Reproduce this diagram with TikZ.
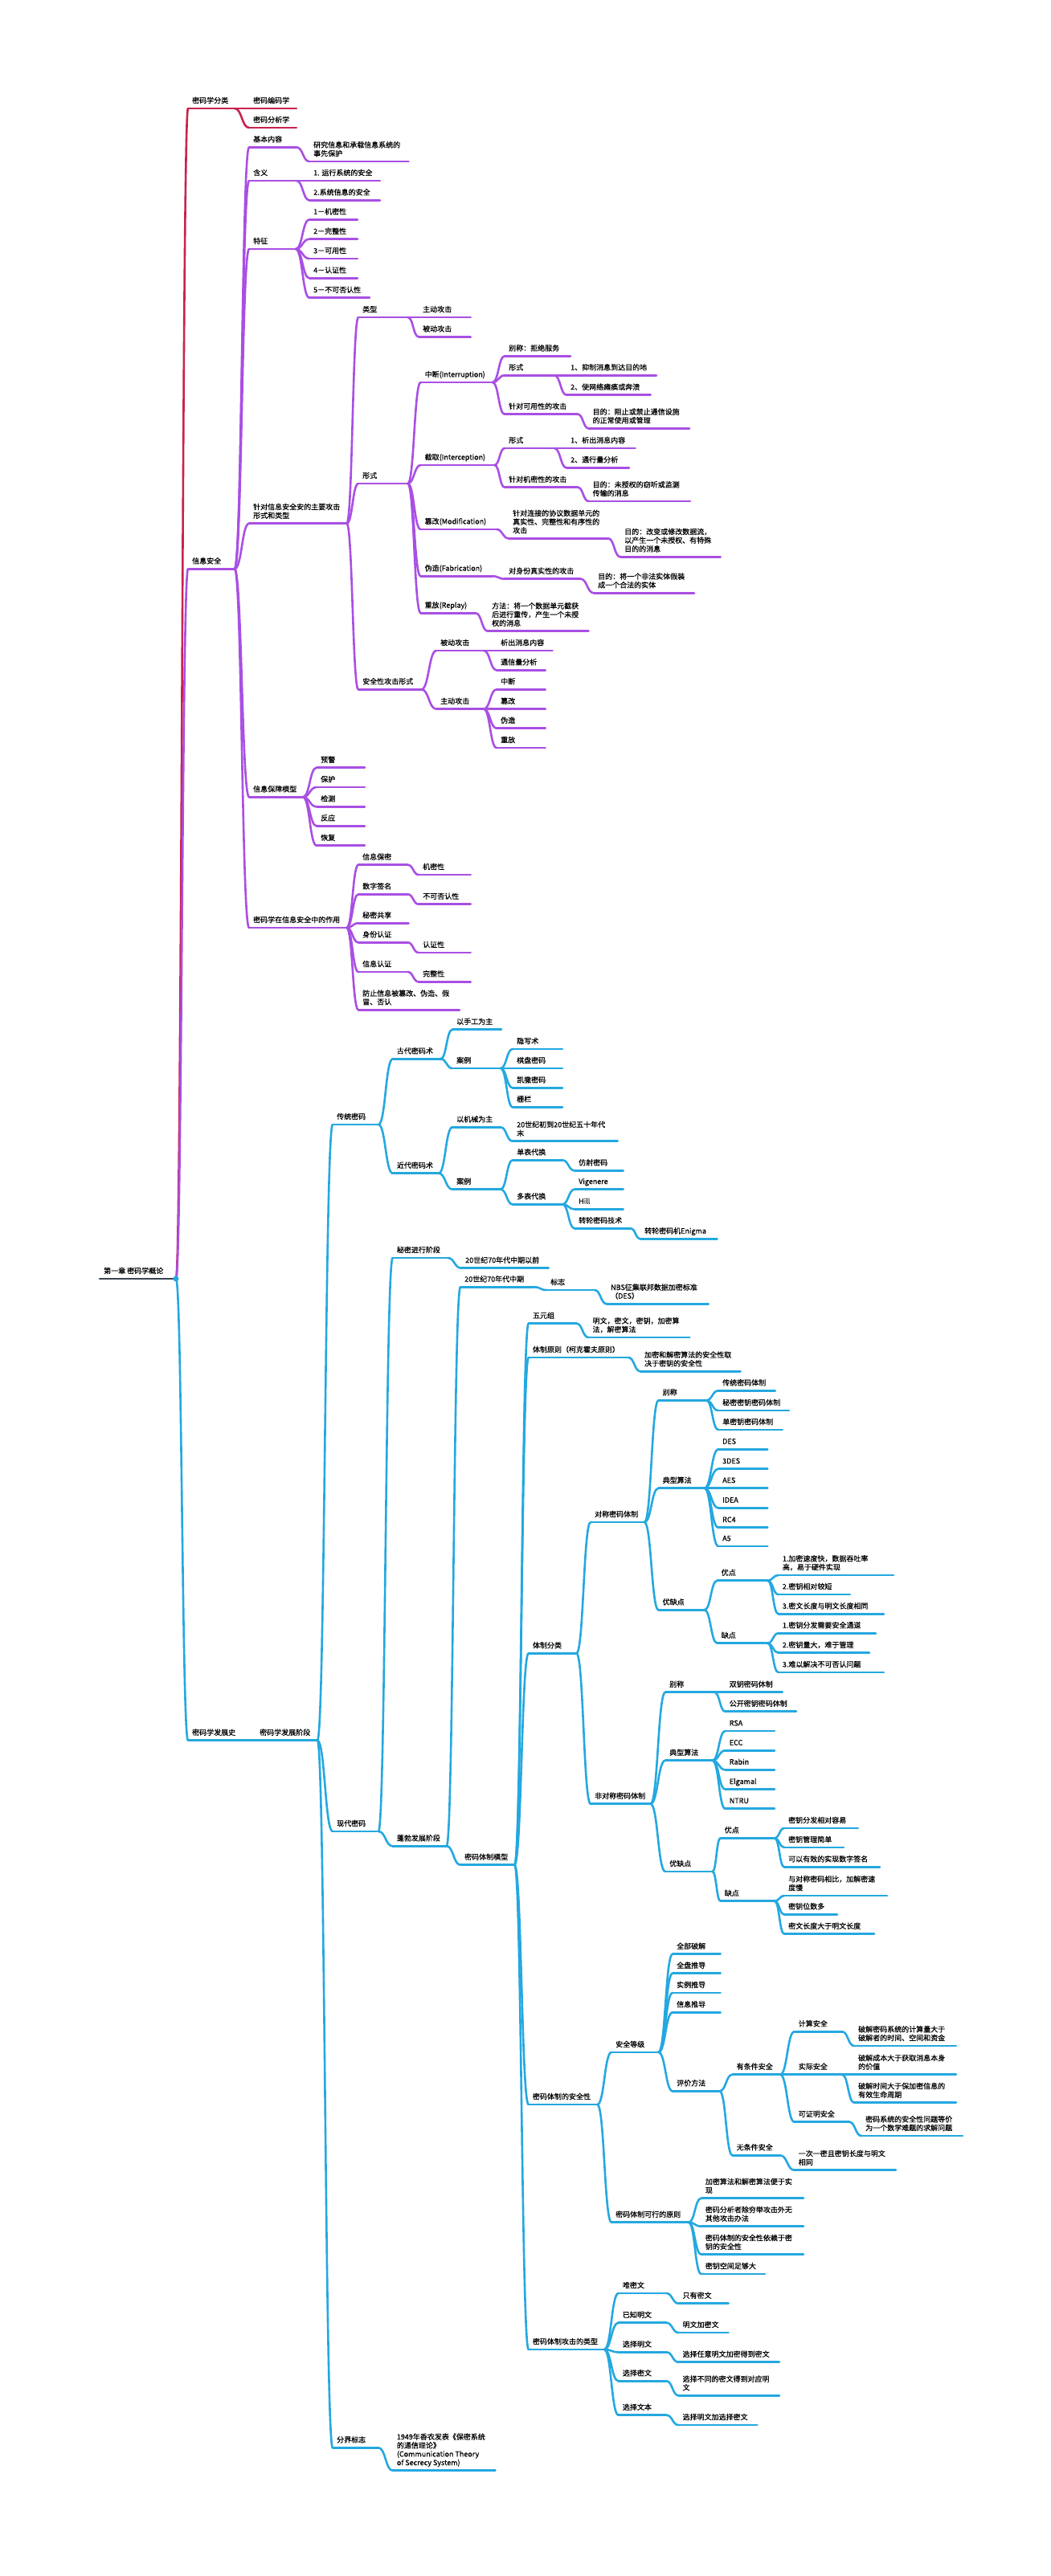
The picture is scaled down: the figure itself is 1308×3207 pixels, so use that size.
\documentclass[tikz,border=0pt]{standalone}
\usepackage{fontspec}
\newfontfamily\cjk[FakeBold=0.6]{Noto Sans CJK SC}
\usetikzlibrary{calc}
\definecolor{cr}{HTML}{C8234E}
\definecolor{cp}{HTML}{A94FE3}
\definecolor{cb}{HTML}{24A8E0}
\definecolor{croot}{HTML}{3A4652}
\newcommand\mmL[1]{\vbox{\baselineskip=10.7pt\lineskiplimit=-\maxdimen\halign{##\hfil\cr#1\crcr}}}
\newcommand\mmN[6]{%
  \coordinate (#1-s) at (#3,#5);
  \coordinate (#1-e) at (#4,#5);
  \draw[br,#2] (#1-s) -- (#1-e);
  \node[lbl] (#1) at (#3+5,#5-6.6) {#6};}
\newcommand\mmC[3]{\draw[br,#1] (#2-e) .. controls ($(#2-e)!0.5!(#2-e -| #3-s)$) and ($(#3-s)!0.5!(#3-s -| #2-e)$) .. (#3-s);}
\tikzset{
  br/.style={line width=2.6pt, line cap=round, line join=round},
  lbl/.style={anchor=base west, inner sep=0pt, font=\cjk\fontsize{9}{10.7}\selectfont, text=black}
}
\begin{document}
\begin{tikzpicture}[x=1pt,y=-1pt]
\fill[white] (0,0) rectangle (1308,3207);
\useasboundingbox (0,0) rectangle (1308,3207);

% root
\mmN{root}{croot}{124}{219}{1592}{第一章 密码学概论}

% ---------------- red
\mmN{r0}{cr}{234}{292}{135}{密码学分类}
\mmN{r1}{cr}{310}{369}{135}{密码编码学}
\mmN{r2}{cr}{310}{369}{159}{密码分析学}
\mmC{cr}{root}{r0}
\mmC{cr}{r0}{r1}\mmC{cr}{r0}{r2}

% ---------------- purple
\mmN{p0}{cp}{234}{292}{708.3}{信息安全}
\mmC{cp}{root}{p0}
\mmN{p1}{cp}{310}{369}{183.3}{基本内容}
\mmN{p1a}{cp}{385}{508.5}{201}{\mmL{研究信息和承载信息系统的\cr 事先保护}}
\mmN{p2}{cp}{310}{369}{225}{含义}
\mmN{p2a}{cp}{385}{473}{225}{1. 运行系统的安全}
\mmN{p2b}{cp}{385}{473}{249.3}{2.系统信息的安全}
\mmN{p3}{cp}{310}{368}{310}{特征}
\mmN{p3a}{cp}{385}{445}{273.3}{1－机密性}
\mmN{p3b}{cp}{385}{445}{297.7}{2－完整性}
\mmN{p3c}{cp}{385}{445}{322}{3－可用性}
\mmN{p3d}{cp}{385}{445}{346.3}{4－认证性}
\mmN{p3e}{cp}{385}{460}{370.7}{5－不可否认性}
\mmN{p4}{cp}{310}{431.5}{651.7}{\mmL{针对信息安全安的主要攻击\cr 形式和类型}}
\mmN{p4a}{cp}{446}{507.5}{395}{类型}
\mmN{p4a1}{cp}{521}{585.7}{395}{主动攻击}
\mmN{p4a2}{cp}{521}{585.7}{419.3}{被动攻击}
\mmN{p4b}{cp}{446}{507.5}{602}{形式}
\mmN{p4b1}{cp}{523.5}{613}{476}{中断(Interruption)}
\mmN{p4b1a}{cp}{628}{710}{443.3}{别称：拒绝服务}
\mmN{p4b1b}{cp}{628}{690}{467.3}{形式}
\mmN{p4b1b1}{cp}{705}{817}{467.3}{1、抑制消息到达目的地}
\mmN{p4b1b2}{cp}{705}{809.6}{491.7}{2、使网络瘫痪或奔溃}
\mmN{p4b1c}{cp}{628}{719}{515.7}{针对可用性的攻击}
\mmN{p4b1c1}{cp}{732.5}{858}{533.3}{\mmL{目的：阻止或禁止通信设施\cr 的正常使用或管理}}
\mmN{p4b2}{cp}{523.5}{615.5}{579}{截取(Interception)}
\mmN{p4b2a}{cp}{628}{690}{558}{形式}
\mmN{p4b2a1}{cp}{705}{790.6}{558}{1、析出消息内容}
\mmN{p4b2a2}{cp}{705}{783}{582.3}{2、通行量分析}
\mmN{p4b2b}{cp}{628}{719}{606.7}{针对机密性的攻击}
\mmN{p4b2b1}{cp}{732.5}{859}{624}{\mmL{目的：未授权的窃听或监测\cr 传输的消息}}
\mmN{p4b3}{cp}{523.5}{618}{659}{篡改(Modification)}
\mmN{p4b3a}{cp}{633}{757}{670.3}{\mmL{针对连接的协议数据单元的\cr 真实性、完整性和有序性的\cr 攻击}}
\mmN{p4b3a1}{cp}{772}{896.6}{693.3}{\mmL{目的：改变或修改数据流，\cr 以产生一个未授权、有特殊\cr 目的的消息}}
\mmN{p4b4}{cp}{523.5}{613}{717.3}{伪造(Fabrication)}
\mmN{p4b4a}{cp}{628}{722.5}{720.7}{对身份真实性的攻击}
\mmN{p4b4a1}{cp}{739}{864}{738.3}{\mmL{目的：将一个非法实体假装\cr 成一个合法的实体}}
\mmN{p4b5}{cp}{523.5}{592}{763.3}{重放(Replay)}
\mmN{p4b5a}{cp}{607}{732.5}{785.7}{\mmL{方法：将一个数据单元截获\cr 后进行重传，产生一个未授\cr 权的消息}}
\mmN{p4c}{cp}{446}{524.5}{858.3}{安全性攻击形式}
\mmN{p4c1}{cp}{543}{602}{810}{被动攻击}
\mmN{p4c1a}{cp}{618}{687.6}{810}{析出消息内容}
\mmN{p4c1b}{cp}{618}{678.7}{834.3}{通信量分析}
\mmN{p4c2}{cp}{543}{602}{882.7}{主动攻击}
\mmN{p4c2a}{cp}{618}{678.7}{858.3}{中断}
\mmN{p4c2b}{cp}{618}{678.7}{882.7}{篡改}
\mmN{p4c2c}{cp}{618}{678.7}{906.7}{伪造}
\mmN{p4c2d}{cp}{618}{678.7}{931}{重放}
\mmN{p5}{cp}{310}{377}{992.3}{信息保障模型}
\mmN{p5a}{cp}{394}{454}{955.7}{预警}
\mmN{p5b}{cp}{394}{454}{980}{保护}
\mmN{p5c}{cp}{394}{454}{1004.3}{检测}
\mmN{p5d}{cp}{394}{454}{1028.3}{反应}
\mmN{p5e}{cp}{394}{454}{1052.7}{恢复}
\mmN{p6}{cp}{310}{431.5}{1155}{密码学在信息安全中的作用}
\mmN{p6a}{cp}{446}{507.5}{1076.7}{信息保密}
\mmN{p6a1}{cp}{521}{585.7}{1089}{机密性}
\mmN{p6b}{cp}{446}{507.5}{1113.3}{数字签名}
\mmN{p6b1}{cp}{521}{585.7}{1125.7}{不可否认性}
\mmN{p6c}{cp}{446}{508.5}{1149.3}{秘密共享}
\mmN{p6d}{cp}{446}{507.5}{1173.3}{身份认证}
\mmN{p6d1}{cp}{521}{585.7}{1186}{认证性}
\mmN{p6e}{cp}{446}{507.5}{1210}{信息认证}
\mmN{p6e1}{cp}{521}{585.7}{1222.3}{完整性}
\mmN{p6f}{cp}{446}{572}{1257.3}{\mmL{防止信息被篡改、伪造、假\cr 冒、否认}}

\foreach \c in {p1,p2,p3,p4,p5,p6} {\mmC{cp}{p0}{\c}}
\mmC{cp}{p1}{p1a}
\mmC{cp}{p2}{p2a}\mmC{cp}{p2}{p2b}
\foreach \c in {p3a,p3b,p3c,p3d,p3e} {\mmC{cp}{p3}{\c}}
\foreach \c in {p4a,p4b,p4c} {\mmC{cp}{p4}{\c}}
\mmC{cp}{p4a}{p4a1}\mmC{cp}{p4a}{p4a2}
\foreach \c in {p4b1,p4b2,p4b3,p4b4,p4b5} {\mmC{cp}{p4b}{\c}}
\foreach \c in {p4b1a,p4b1b,p4b1c} {\mmC{cp}{p4b1}{\c}}
\mmC{cp}{p4b1b}{p4b1b1}\mmC{cp}{p4b1b}{p4b1b2}
\mmC{cp}{p4b1c}{p4b1c1}
\mmC{cp}{p4b2}{p4b2a}\mmC{cp}{p4b2}{p4b2b}
\mmC{cp}{p4b2a}{p4b2a1}\mmC{cp}{p4b2a}{p4b2a2}
\mmC{cp}{p4b2b}{p4b2b1}
\mmC{cp}{p4b3}{p4b3a}\mmC{cp}{p4b3a}{p4b3a1}
\mmC{cp}{p4b4}{p4b4a}\mmC{cp}{p4b4a}{p4b4a1}
\mmC{cp}{p4b5}{p4b5a}
\mmC{cp}{p4c}{p4c1}\mmC{cp}{p4c}{p4c2}
\mmC{cp}{p4c1}{p4c1a}\mmC{cp}{p4c1}{p4c1b}
\foreach \c in {p4c2a,p4c2b,p4c2c,p4c2d} {\mmC{cp}{p4c2}{\c}}
\foreach \c in {p5a,p5b,p5c,p5d,p5e} {\mmC{cp}{p5}{\c}}
\foreach \c in {p6a,p6b,p6c,p6d,p6e,p6f} {\mmC{cp}{p6}{\c}}
\mmC{cp}{p6a}{p6a1}\mmC{cp}{p6b}{p6b1}\mmC{cp}{p6d}{p6d1}\mmC{cp}{p6e}{p6e1}

% ---------------- blue
\mmN{b0}{cb}{234}{300}{2166.7}{密码学发展史}
\mmC{cb}{root}{b0}
\mmN{b1}{cb}{318}{395}{2166.7}{密码学发展阶段}
\mmC{cb}{b0}{b1}
\mmN{t}{cb}{414}{471}{1400}{传统密码}
\mmN{t1}{cb}{488.7}{548.4}{1318.3}{古代密码术}
\mmN{t1a}{cb}{563}{624}{1281.7}{以手工为主}
\mmN{t1b}{cb}{563}{623}{1330}{案例}
\mmN{t1b1}{cb}{638}{700}{1306}{隐写术}
\mmN{t1b2}{cb}{638}{700}{1330}{棋盘密码}
\mmN{t1b3}{cb}{638}{700}{1354.3}{凯撒密码}
\mmN{t1b4}{cb}{638}{700}{1378.3}{栅栏}
\mmN{t2}{cb}{488.7}{546}{1460.7}{近代密码术}
\mmN{t2a}{cb}{563}{623}{1403.3}{以机械为主}
\mmN{t2a1}{cb}{638}{768.8}{1420.7}{\mmL{20世纪初到20世纪五十年代\cr 末}}
\mmN{t2b}{cb}{563}{623}{1480.7}{案例}
\mmN{t2b1}{cb}{638}{700}{1444.3}{单表代换}
\mmN{t2b1a}{cb}{715}{775.7}{1457.3}{仿射密码}
\mmN{t2b2}{cb}{638}{700}{1499.3}{多表代换}
\mmN{t2b2a}{cb}{715}{775.7}{1480.7}{Vigenere}
\mmN{t2b2b}{cb}{715}{775.7}{1505.3}{Hill}
\mmN{t2b2c}{cb}{715}{784.7}{1529.3}{转轮密码技术}
\mmN{t2b2c1}{cb}{797}{892.6}{1542.3}{转轮密码机Enigma}

\mmN{m}{cb}{414}{471}{2280}{现代密码}
\mmN{m1}{cb}{488.7}{557.3}{1566}{秘密进行阶段}
\mmN{m1a}{cb}{574}{682.7}{1578.7}{20世纪70年代中期以前}
\mmN{m2}{cb}{488.7}{555.8}{2298.3}{蓬勃发展阶段}
\mmN{m2a}{cb}{573}{665}{1602.3}{20世纪70年代中期}
\mmN{m2a1}{cb}{680}{740}{1606}{标志}
\mmN{m2a1a}{cb}{755}{881.7}{1623.3}{\mmL{NBS征集联邦数据加密标准\cr （DES）}}
\mmN{m2b}{cb}{573}{640.4}{2321.7}{密码体制模型}
\mmN{k1}{cb}{657.8}{717.5}{1647.7}{五元组}
\mmN{k1a}{cb}{732.4}{858.3}{1665}{\mmL{明文，密文，密钥，加密算\cr 法，解密算法}}
\mmN{k2}{cb}{657.8}{782}{1690}{体制原则（柯克霍夫原则）}
\mmN{k2a}{cb}{797}{921.5}{1707.3}{\mmL{加密和解密算法的安全性取\cr 决于密钥的安全性}}
\mmN{k3}{cb}{657.8}{717.5}{2058.3}{体制分类}
\mmN{s}{cb}{735}{802}{1895}{对称密码体制}
\mmN{s1}{cb}{819.5}{879}{1743.3}{别称}
\mmN{s1a}{cb}{894}{964.8}{1731.3}{传统密码体制}
\mmN{s1b}{cb}{894}{982}{1756}{秘密密钥密码体制}
\mmN{s1c}{cb}{894}{973.7}{1780}{单密钥密码体制}
\mmN{s2}{cb}{819.5}{876.7}{1852.7}{典型算法}
\mmN{s2a}{cb}{894}{955.3}{1804.3}{DES}
\mmN{s2b}{cb}{894}{955.3}{1828.7}{3DES}
\mmN{s2c}{cb}{894}{955.3}{1852.7}{AES}
\mmN{s2d}{cb}{894}{955.3}{1877.3}{IDEA}
\mmN{s2e}{cb}{894}{955.3}{1901.7}{RC4}
\mmN{s2f}{cb}{894}{955.3}{1925}{A5}
\mmN{s3}{cb}{819.5}{876.7}{2004.3}{优缺点}
\mmN{s3a}{cb}{892.6}{955.3}{1967.7}{优点}
\mmN{s3a1}{cb}{968.7}{1112}{1961}{\mmL{1.加密速度快，数据吞吐率\cr 高，易于硬件实现}}
\mmN{s3a2}{cb}{968.7}{1058}{1985}{2.密钥相对较短}
\mmN{s3a3}{cb}{968.7}{1100}{2009.3}{3.密文长度与明文长度相同}
\mmN{s3b}{cb}{892.6}{955.3}{2045.7}{缺点}
\mmN{s3b1}{cb}{968.7}{1090}{2033.3}{1.密钥分发需要安全通道}
\mmN{s3b2}{cb}{968.7}{1082}{2057.7}{2.密钥量大，难于管理}
\mmN{s3b3}{cb}{968.7}{1100}{2082}{3.难以解决不可否认问题}
\mmN{a}{cb}{735}{809.6}{2245.7}{非对称密码体制}
\mmN{a1}{cb}{828}{889}{2106.7}{别称}
\mmN{a1a}{cb}{902.6}{973.7}{2106.7}{双钥密码体制}
\mmN{a1b}{cb}{902.6}{991}{2130.7}{公开密钥密码体制}
\mmN{a2}{cb}{828}{886.7}{2191.7}{典型算法}
\mmN{a2a}{cb}{902.6}{964}{2155}{RSA}
\mmN{a2b}{cb}{902.6}{964}{2179.3}{ECC}
\mmN{a2c}{cb}{902.6}{964}{2203.3}{Rabin}
\mmN{a2d}{cb}{902.6}{964}{2227.7}{Elgamal}
\mmN{a2e}{cb}{902.6}{964}{2251.7}{NTRU}
\mmN{a3}{cb}{828}{886.7}{2330}{优缺点}
\mmN{a3a}{cb}{896.6}{964}{2288.3}{优点}
\mmN{a3a1}{cb}{976}{1068}{2276}{密钥分发相对容易}
\mmN{a3a2}{cb}{976}{1050}{2300}{密钥管理简单}
\mmN{a3a3}{cb}{976}{1095}{2324.3}{可以有效的实现数字签名}
\mmN{a3b}{cb}{896.6}{964}{2366.7}{缺点}
\mmN{a3b1}{cb}{976}{1104}{2360}{\mmL{与对称密码相比，加解密速\cr 度慢}}
\mmN{a3b2}{cb}{976}{1042}{2383.3}{密钥位数多}
\mmN{a3b3}{cb}{976}{1088}{2407.7}{密文长度大于明文长度}
\mmN{k4}{cb}{657.8}{743.4}{2620}{密码体制的安全性}
\mmN{q1}{cb}{761}{819.5}{2555}{安全等级}
\mmN{q1a}{cb}{837}{896.6}{2432.7}{全部破解}
\mmN{q1b}{cb}{837}{896.6}{2456.7}{全盘推导}
\mmN{q1c}{cb}{837}{896.6}{2481}{实例推导}
\mmN{q1d}{cb}{837}{896.6}{2505.3}{信息推导}
\mmN{q1e}{cb}{837}{895.6}{2603.3}{评价方法}
\mmN{q1e1}{cb}{911.5}{971}{2582.7}{有条件安全}
\mmN{q1e1a}{cb}{988.6}{1048}{2529.3}{计算安全}
\mmN{q1e1a1}{cb}{1063}{1190}{2547}{\mmL{破解密码系统的计算量大于\cr 破解者的时间、空间和资金}}
\mmN{q1e1b}{cb}{988.6}{1048}{2582.7}{实际安全}
\mmN{q1e1b1}{cb}{1063}{1190}{2582.7}{\mmL{破解成本大于获取消息本身\cr 的价值}}
\mmN{q1e1b2}{cb}{1063}{1190}{2617.7}{\mmL{破解时间大于保加密信息的\cr 有效生命周期}}
\mmN{q1e1c}{cb}{988.6}{1057}{2641.7}{可证明安全}
\mmN{q1e1c1}{cb}{1072}{1198}{2659}{\mmL{密码系统的安全性问题等价\cr 为一个数学难题的求解问题}}
\mmN{q1e2}{cb}{911.5}{971}{2683.3}{无条件安全}
\mmN{q1e2a}{cb}{988.6}{1115}{2701.7}{\mmL{一次一密且密钥长度与明文\cr 相同}}
\mmN{q2}{cb}{761}{857}{2766.7}{密码体制可行的原则}
\mmN{q2a}{cb}{872.7}{1000}{2736.7}{\mmL{加密算法和解密算法便于实\cr 现}}
\mmN{q2b}{cb}{872.7}{1000}{2771.7}{\mmL{密码分析者除穷举攻击外无\cr 其他攻击办法}}
\mmN{q2c}{cb}{872.7}{1000}{2806.7}{\mmL{密码体制的安全性依赖于密\cr 钥的安全性}}
\mmN{q2d}{cb}{872.7}{952}{2831}{密钥空间足够大}
\mmN{k5}{cb}{657.8}{752}{2925}{密码体制攻击的类型}
\mmN{w1}{cb}{769.7}{829.4}{2855}{唯密文}
\mmN{w1a}{cb}{844.4}{906.6}{2867.7}{只有密文}
\mmN{w2}{cb}{769.7}{829.4}{2891.7}{已知明文}
\mmN{w2a}{cb}{844.4}{906.6}{2904}{明文加密文}
\mmN{w3}{cb}{769.7}{829.4}{2928.3}{选择明文}
\mmN{w3a}{cb}{844.4}{970}{2940.7}{选择任意明文加密得到密文}
\mmN{w4}{cb}{769.7}{829.4}{2964.3}{选择密文}
\mmN{w4a}{cb}{844.4}{970}{2982.3}{\mmL{选择不同的密文得到对应明\cr 文}}
\mmN{w5}{cb}{769.7}{829.4}{3006.7}{选择文本}
\mmN{w5a}{cb}{844.4}{942.4}{3019}{选择明文加选择密文}

\mmN{f}{cb}{414}{471}{3047.3}{分界标志}
\mmN{f1}{cb}{488.7}{616.5}{3075.7}{\mmL{1949年香农发表《保密系统\cr 的通信理论》\cr (Communication Theory\cr of Secrecy System)}}

\foreach \c in {t,m,f} {\mmC{cb}{b1}{\c}}
\mmC{cb}{t}{t1}\mmC{cb}{t}{t2}
\mmC{cb}{t1}{t1a}\mmC{cb}{t1}{t1b}
\foreach \c in {t1b1,t1b2,t1b3,t1b4} {\mmC{cb}{t1b}{\c}}
\mmC{cb}{t2}{t2a}\mmC{cb}{t2}{t2b}
\mmC{cb}{t2a}{t2a1}
\mmC{cb}{t2b}{t2b1}\mmC{cb}{t2b}{t2b2}
\mmC{cb}{t2b1}{t2b1a}
\foreach \c in {t2b2a,t2b2b,t2b2c} {\mmC{cb}{t2b2}{\c}}
\mmC{cb}{t2b2c}{t2b2c1}
\mmC{cb}{m}{m1}\mmC{cb}{m}{m2}
\mmC{cb}{m1}{m1a}
\mmC{cb}{m2}{m2a}\mmC{cb}{m2}{m2b}
\mmC{cb}{m2a}{m2a1}\mmC{cb}{m2a1}{m2a1a}
\foreach \c in {k1,k2,k3,k4,k5} {\mmC{cb}{m2b}{\c}}
\mmC{cb}{k1}{k1a}\mmC{cb}{k2}{k2a}
\mmC{cb}{k3}{s}\mmC{cb}{k3}{a}
\foreach \c in {s1,s2,s3} {\mmC{cb}{s}{\c}}
\foreach \c in {s1a,s1b,s1c} {\mmC{cb}{s1}{\c}}
\foreach \c in {s2a,s2b,s2c,s2d,s2e,s2f} {\mmC{cb}{s2}{\c}}
\mmC{cb}{s3}{s3a}\mmC{cb}{s3}{s3b}
\foreach \c in {s3a1,s3a2,s3a3} {\mmC{cb}{s3a}{\c}}
\foreach \c in {s3b1,s3b2,s3b3} {\mmC{cb}{s3b}{\c}}
\foreach \c in {a1,a2,a3} {\mmC{cb}{a}{\c}}
\mmC{cb}{a1}{a1a}\mmC{cb}{a1}{a1b}
\foreach \c in {a2a,a2b,a2c,a2d,a2e} {\mmC{cb}{a2}{\c}}
\mmC{cb}{a3}{a3a}\mmC{cb}{a3}{a3b}
\foreach \c in {a3a1,a3a2,a3a3} {\mmC{cb}{a3a}{\c}}
\foreach \c in {a3b1,a3b2,a3b3} {\mmC{cb}{a3b}{\c}}
\mmC{cb}{k4}{q1}\mmC{cb}{k4}{q2}
\foreach \c in {q1a,q1b,q1c,q1d,q1e} {\mmC{cb}{q1}{\c}}
\mmC{cb}{q1e}{q1e1}\mmC{cb}{q1e}{q1e2}
\foreach \c in {q1e1a,q1e1b,q1e1c} {\mmC{cb}{q1e1}{\c}}
\mmC{cb}{q1e1a}{q1e1a1}
\mmC{cb}{q1e1b}{q1e1b1}\mmC{cb}{q1e1b}{q1e1b2}
\mmC{cb}{q1e1c}{q1e1c1}
\mmC{cb}{q1e2}{q1e2a}
\foreach \c in {q2a,q2b,q2c,q2d} {\mmC{cb}{q2}{\c}}
\foreach \c in {w1,w2,w3,w4,w5} {\mmC{cb}{k5}{\c}}
\mmC{cb}{w1}{w1a}\mmC{cb}{w2}{w2a}\mmC{cb}{w3}{w3a}\mmC{cb}{w4}{w4a}\mmC{cb}{w5}{w5a}
\mmC{cb}{f}{f1}

\fill[cb] (root-e) circle (3.5);
\end{tikzpicture}
\end{document}
